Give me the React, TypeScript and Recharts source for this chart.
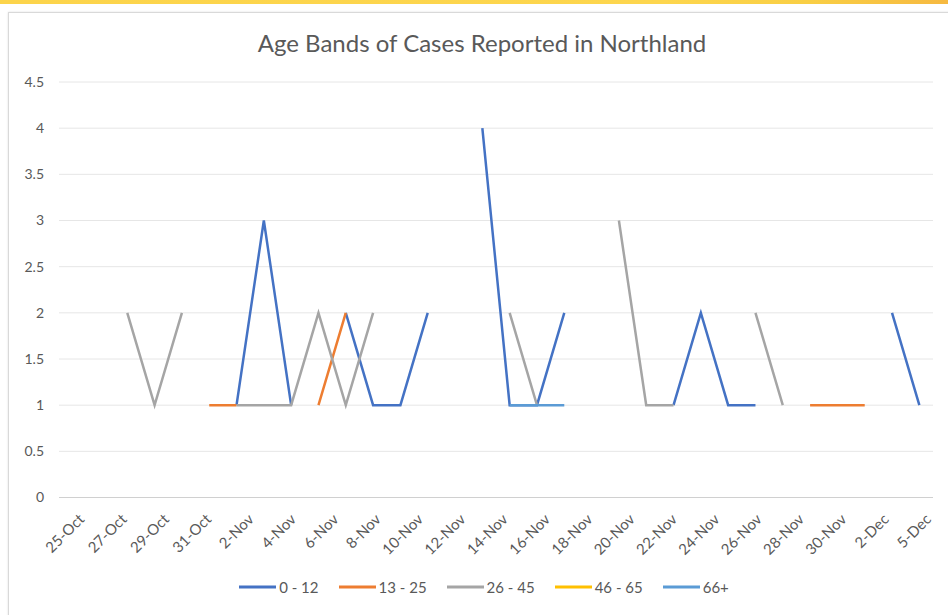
import React from 'react'
import { LineChart, Line, XAxis, YAxis, CartesianGrid, Legend } from 'recharts'

// 32 report points along the x axis (the date labels are spread evenly over them)
const reports = [
  0, 1, 2, 3, 4, 5, 6, 7, 8, 9, 10, 11, 12, 13, 14, 15,
  16, 17, 18, 19, 20, 21, 22, 23, 24, 25, 26, 27, 28, 29, 30, 31,
]

const dateLabels = [
  '25-Oct', '27-Oct', '29-Oct', '31-Oct', '2-Nov', '4-Nov', '6-Nov', '8-Nov',
  '10-Nov', '12-Nov', '14-Nov', '16-Nov', '18-Nov', '20-Nov', '22-Nov',
  '24-Nov', '26-Nov', '28-Nov', '30-Nov', '2-Dec', '5-Dec',
]

const yTicks = [0, 0.5, 1, 1.5, 2, 2.5, 3, 3.5, 4, 4.5]

const age0to12 = [
  null, null, null, null, null, null, 1, 3, 1, null, 2, 1, 1, 2, null, 4,
  1, 1, 2, null, null, null, 1, 2, 1, 1, null, null, null, null, 2, 1,
]
const age13to25 = [
  null, null, null, null, null, 1, 1, null, null, 1, 2, null, null, null, null, null,
  null, null, null, null, null, null, null, null, null, null, null, 1, 1, 1, null, null,
]
const age26to45 = [
  null, null, 2, 1, 2, null, 1, 1, 1, 2, 1, 2, null, null, null, null,
  2, 1, null, null, 3, 1, 1, null, null, 2, 1, null, null, null, null, null,
]
const age46to65 = [
  null, null, null, null, null, null, null, null, null, null, null, null, null, null, null, null,
  null, null, null, null, null, null, null, null, null, null, null, null, null, null, null, null,
]
const age66plus = [
  null, null, null, null, null, null, null, null, null, null, null, null, null, null, null, null,
  1, 1, 1, null, null, null, null, null, null, null, null, null, null, null, null, null,
]

const series = [
  { key: 'a0', name: '0 - 12', color: '#4472C4', values: age0to12 },
  { key: 'a13', name: '13 - 25', color: '#ED7D31', values: age13to25 },
  { key: 'a26', name: '26 - 45', color: '#A5A5A5', values: age26to45 },
  { key: 'a46', name: '46 - 65', color: '#FFC000', values: age46to65 },
  { key: 'a66', name: '66+', color: '#5B9BD5', values: age66plus },
]

const data = reports.map((idx, i) => {
  const row: Record<string, number | null> = { idx }
  series.forEach((s) => {
    row[s.key] = s.values[i]
  })
  return row
})

// label k sits evenly between the first and last report point
const lastReport = reports[reports.length - 1]
const xTicks = dateLabels.map((_, k) => (k * lastReport) / (dateLabels.length - 1))

const FONT = 'Lato, "Liberation Sans", sans-serif'
const TEXT = '#595959'

function DateTick(props: any) {
  const { x, y, index } = props
  return (
    <g transform={`translate(${x + 9},${y + 19})`}>
      <text
        x={0}
        y={0}
        dy="0.35em"
        transform="rotate(-45)"
        textAnchor="end"
        fill={TEXT}
        fontSize={15}
        fontFamily={FONT}
      >
        {dateLabels[index]}
      </text>
    </g>
  )
}

function renderLegend() {
  return (
    <div
      style={{
        display: 'flex',
        justifyContent: 'center',
        alignItems: 'center',
        height: 20,
        paddingLeft: 55,
        fontFamily: FONT,
        fontSize: 15,
        color: TEXT,
      }}
    >
      {series.map((s) => (
        <div key={s.key} style={{ display: 'flex', alignItems: 'center', marginRight: 20 }}>
          <svg width={37} height={4}>
            <line x1={0} y1={2} x2={37} y2={2} stroke={s.color} strokeWidth={3} />
          </svg>
          <span style={{ marginLeft: 3, lineHeight: '20px' }}>{s.name}</span>
        </div>
      ))}
    </div>
  )
}

export default function App() {
  return (
    <div
      style={{
        position: 'absolute',
        left: 0,
        top: 0,
        width: 948,
        height: 615,
        overflow: 'hidden',
        background: '#fff',
      }}
    >
      {/* yellow strip at the very top */}
      <div
        style={{
          position: 'absolute',
          left: 0,
          top: 0,
          width: 948,
          height: 4,
          background: 'linear-gradient(90deg, #FCD44B 0%, #FDD64E 70%, #F9CF45 85%, #F6B941 100%)',
        }}
      />
      {/* chart frame */}
      <div
        style={{
          position: 'absolute',
          left: 8,
          top: 12,
          width: 960,
          height: 640,
          border: '1px solid #D9D9D9',
          boxShadow: '0 0 2px rgba(0,0,0,0.12)',
        }}
      />
      <div
        style={{
          position: 'absolute',
          left: 0,
          top: 28,
          width: 964,
          textAlign: 'center',
          fontFamily: FONT,
          fontSize: 24,
          color: TEXT,
          lineHeight: '30px',
        }}
      >
        Age Bands of Cases Reported in Northland
      </div>
      <div style={{ position: 'absolute', left: 0, top: 0 }}>
        <LineChart
          width={948}
          height={615}
          data={data}
          margin={{ top: 82, right: 15, bottom: 18, left: 0 }}
        >
          <CartesianGrid vertical={false} stroke="#E6E6E6" strokeWidth={1} />
          <XAxis
            dataKey="idx"
            type="number"
            domain={[-0.5, 31.5]}
            ticks={xTicks}
            interval={0}
            height={79.5}
            tickLine={false}
            axisLine={{ stroke: '#D0D0D0' }}
            tickSize={0}
            tickMargin={0}
            tick={<DateTick />}
          />
          <YAxis
            domain={[0, 4.5]}
            ticks={yTicks}
            interval={0}
            width={59}
            axisLine={false}
            tickLine={false}
            tickSize={0}
            tickMargin={15}
            tick={{ fill: TEXT, fontSize: 14, fontFamily: FONT }}
          />
          <Legend verticalAlign="bottom" content={renderLegend} wrapperStyle={{ height: 20 }} />
          {series.map((s) => (
            <Line
              key={s.key}
              dataKey={s.key}
              name={s.name}
              stroke={s.color}
              strokeWidth={2.5}
              dot={false}
              activeDot={false}
              connectNulls={false}
              isAnimationActive={false}
              strokeLinejoin="miter"
            />
          ))}
        </LineChart>
      </div>
    </div>
  )
}
